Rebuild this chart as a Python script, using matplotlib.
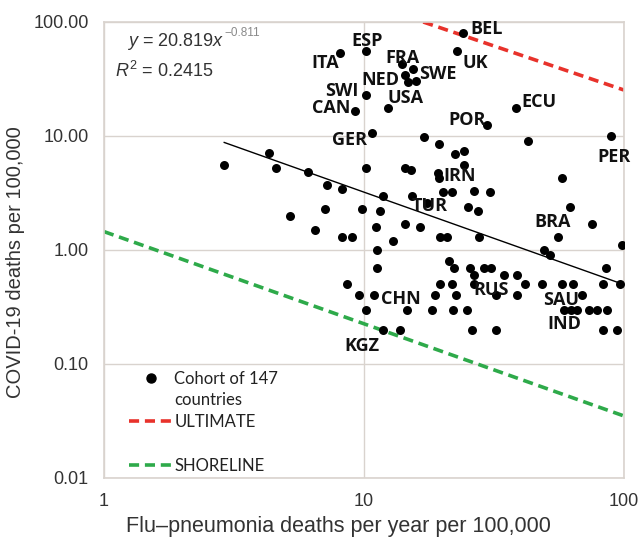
import matplotlib
matplotlib.use("Agg")
import matplotlib.pyplot as plt
from matplotlib.lines import Line2D
import numpy as np

plt.rcParams['font.family'] = ['Liberation Sans', 'DejaVu Sans']
plt.rcParams['mathtext.fontset'] = 'custom'
plt.rcParams['mathtext.rm'] = 'Liberation Sans'
plt.rcParams['mathtext.it'] = 'Liberation Sans:italic'

# flu-pneumonia deaths per year per 100,000 (x) and covid-19 deaths per 100,000 (y)
flu = [2.9, 4.3, 4.6, 6.1, 7.2, 8.2, 5.2, 7.1, 9.8, 6.5, 8.2, 9.0,
       8.1, 10.2, 24.0, 22.8, 14.0, 15.4, 14.4, 14.8, 15.8, 10.2, 9.2, 12.4,
       29.7, 10.7, 17.0, 19.4, 22.4, 24.3, 38.4, 42.7, 89.1, 24.3, 10.2, 14.4,
       15.2, 19.3, 19.4, 20.1, 21.8, 26.5, 30.5, 11.8, 15.3, 17.5, 25.1, 27.4,
       11.5, 57.7, 62.0, 75.3, 55.7, 98.2, 49.2, 51.9, 11.1, 14.4, 16.4, 12.9,
       19.6, 20.9, 27.7, 11.2, 21.2, 11.2, 22.2, 25.6, 28.9, 30.8, 85.6, 26.5,
       34.6, 38.8, 26.5, 8.6, 19.6, 21.8, 41.6, 48.4, 58.0, 63.4, 82.7, 96.5,
       9.6, 10.9, 18.8, 22.6, 32.2, 38.9, 69.2, 10.2, 14.6, 18.3, 22.0, 24.8,
       58.7, 62.5, 66.2, 73.3, 78.7, 86.0, 11.8, 13.7, 26.1, 32.3, 83.0, 94.0]
covid = [5.6, 7.1, 5.2, 4.8, 3.7, 3.4, 2.0, 2.3, 2.3, 1.5, 1.3, 1.3,
         53.5, 55.7, 80.1, 55.7, 42.8, 38.7, 34.3, 29.8, 30.4, 22.9, 16.6, 17.6,
         12.5, 10.6, 9.8, 8.5, 6.95, 7.4, 17.6, 9.0, 10.0, 5.6, 5.2, 5.2,
         5.0, 4.7, 4.3, 3.2, 3.2, 3.3, 3.2, 3.0, 3.0, 2.6, 2.4, 2.2,
         2.2, 4.3, 2.4, 1.7, 1.3, 1.1, 1.0, 0.9, 1.6, 1.7, 1.6, 1.2,
         1.3, 1.3, 1.3, 1.0, 0.8, 0.7, 0.7, 0.7, 0.7, 0.7, 0.7, 0.6,
         0.6, 0.6, 0.5, 0.5, 0.5, 0.5, 0.5, 0.5, 0.5, 0.5, 0.5, 0.5,
         0.4, 0.4, 0.4, 0.4, 0.4, 0.4, 0.4, 0.3, 0.3, 0.3, 0.3, 0.3,
         0.3, 0.3, 0.3, 0.3, 0.3, 0.3, 0.2, 0.2, 0.2, 0.2, 0.2, 0.2]

codes = ["ESP", "ITA", "FRA", "NED", "SWE", "UK", "BEL", "SWI", "CAN", "USA",
         "POR", "GER", "ECU", "PER", "IRN", "TUR", "BRA", "CHN", "KGZ", "RUS",
         "SAU", "IND"]
code_x = [10.3, 7.1, 14.1, 11.6, 19.3, 26.7, 29.7, 8.2, 7.5, 14.5,
          24.9, 8.8, 47.1, 91.5, 23.4, 17.9, 52.9, 13.9, 9.8, 30.8,
          57.3, 58.8]
code_y = [68.1, 43.7, 48.3, 31.0, 35.0, 43.7, 86.8, 24.8, 17.6, 21.5,
          13.8, 9.2, 19.9, 6.54, 4.46, 2.43, 1.76, 0.372, 0.144, 0.446,
          0.364, 0.224]

# power-law fit y = a * x^b
fit_a = 20.819
fit_b = -0.811
fit_x = np.array([2.9, 100])

ultimate_x = [16.9, 100]
ultimate_y = [100, 25.3]
shoreline_x = [1, 100]
shoreline_y = [1.45, 0.035]

red = '#e8322b'
green = '#2eaa4a'
frame = '#d9d3ce'

fig = plt.figure(figsize=(6.41, 5.40), dpi=100)
ax = fig.add_axes([104 / 641, 1 - 478 / 540, 520 / 641, 456 / 540])
ax.set_xscale('log')
ax.set_yscale('log')
ax.set_xlim(1, 100)
ax.set_ylim(0.01, 100)

for s in ax.spines.values():
    s.set_color(frame)
    s.set_linewidth(1.2)
ax.grid(True, which='major', color=frame, linewidth=1.0)
ax.minorticks_off()
ax.set_axisbelow(True)

ax.set_yticks([0.01, 0.1, 1, 10, 100])
ax.set_yticklabels(["0.01", "0.10", "1.00", "10.00", "100.00"])
ax.set_xticks([1, 10, 100])
ax.set_xticklabels(["1", "10", "100"])
ax.tick_params(axis='both', length=0, labelsize=13, labelcolor='#333333')
ax.tick_params(axis='y', pad=11)
ax.tick_params(axis='x', pad=11)

ax.plot(shoreline_x, shoreline_y, color=green, lw=2.6, dashes=(2.8, 1.6), zorder=2)
ax.plot(ultimate_x, ultimate_y, color=red, lw=2.6, dashes=(2.8, 1.6), zorder=2)
ax.plot(fit_x, fit_a * fit_x ** fit_b, color='black', lw=1.0, zorder=3)
ax.scatter(flu, covid, s=42, color='black', zorder=4, linewidths=0)

for c, x, y in zip(codes, code_x, code_y):
    ax.text(x, y, c, ha='center', va='center', fontsize=13, fontweight='bold',
            family=['Open Sans', 'DejaVu Sans'], color='#111111', zorder=5)

eq = ax.text(0.044, 0.957, r'$y$ = 20.819$x$', transform=ax.transAxes,
             fontsize=13, color='#333333', va='center')
ax.annotate('\u22120.811', xy=(1, 0.62), xycoords=eq, fontsize=8.5,
            color='#8a8a8a', va='bottom', ha='left')
ax.text(0.022, 0.893, r'$R^{2}$ = 0.2415', transform=ax.transAxes,
        fontsize=13, color='#333333', va='center')

ax.set_xlabel("Flu\u2013pneumonia deaths per year per 100,000", fontsize=15.5,
              color='#333333')
ax.xaxis.set_label_coords(0.45, -0.084)
ax.set_ylabel("COVID-19 deaths per 100,000", fontsize=14.5, color='#333333')
ax.yaxis.set_label_coords(-0.152, 0.474)

handles = [Line2D([], [], marker='o', color='black', ls='none', markersize=6.5),
           Line2D([], [], color='none'),
           Line2D([], [], color=red, lw=2.6, dashes=(2.8, 1.6)),
           Line2D([], [], color='none'),
           Line2D([], [], color=green, lw=2.6, dashes=(2.8, 1.6))]
labels = ["Cohort of 147", "countries", "ULTIMATE", "", "SHORELINE"]
leg = ax.legend(handles, labels, loc='lower left', bbox_to_anchor=(0.02, -0.024),
                frameon=False, handlelength=2.6, handletextpad=0.1,
                labelspacing=0.35, prop={'family': ['Lato', 'DejaVu Sans'], 'size': 12})
for t in leg.get_texts():
    t.set_color('#222222')

fig.savefig("out.png", dpi=100)
